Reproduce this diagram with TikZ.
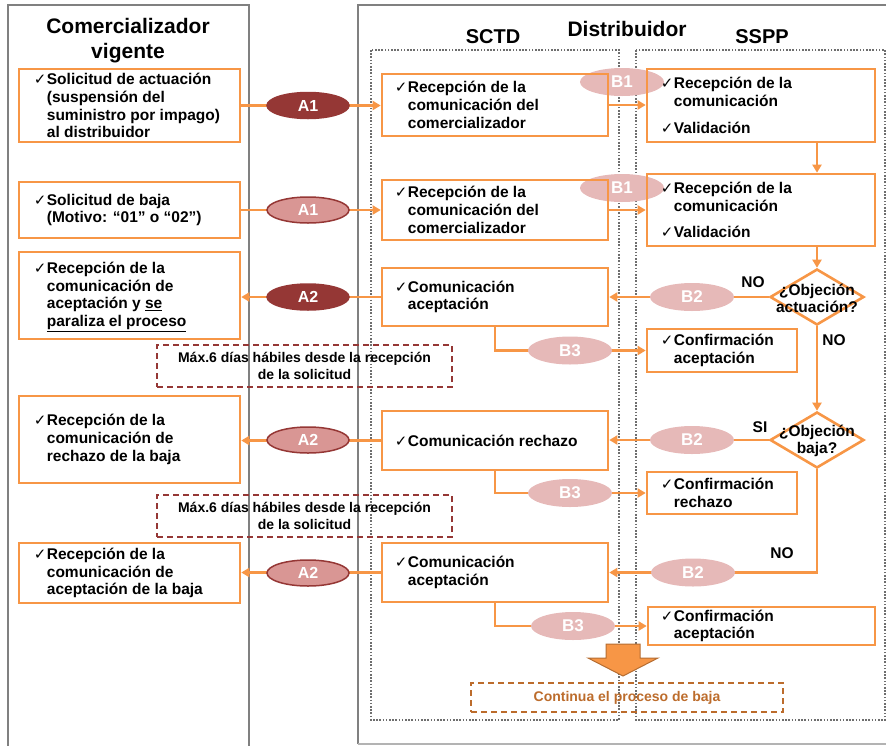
\documentclass[tikz,border=0pt]{standalone}
\usepackage{fontspec}
\setmainfont{Liberation Sans}
\newfontfamily\symfont{DejaVu Sans}
\usetikzlibrary{shapes.geometric,arrows.meta}

\definecolor{orng}{HTML}{F79646}
\definecolor{dred}{HTML}{953735}
\definecolor{lred}{HTML}{D99694}
\definecolor{pnk}{HTML}{E6B9B8}
\definecolor{frgray}{HTML}{808080}
\definecolor{dotgray}{HTML}{6E6E6E}
\definecolor{brwn}{HTML}{BC6C2C}
\definecolor{darrow}{HTML}{B66D31}

\newcommand{\ck}{\llap{{\symfont\mdseries\fontsize{15}{15}\selectfont ✓}\hspace{0.5pt}}}

\tikzset{
  box/.style={draw=orng, line width=2.6pt, inner sep=0pt},
  lbox/.style={box, minimum width=221pt},
  mbox/.style={box, minimum width=226pt},
  rbox/.style={box, minimum width=228pt},
  cbox/.style={box, minimum width=150pt},
  txt/.style={font=\bfseries\fontsize{15.5}{17.8}\selectfont, align=left, inner sep=0pt, anchor=west},
  dmd/.style={diamond, draw=orng, line width=2.6pt, minimum width=94pt, minimum height=56pt, inner sep=0pt},
  dtxt/.style={font=\bfseries\fontsize{15.5}{17}\selectfont, align=center, inner sep=0pt},
  lbl/.style={font=\bfseries\fontsize{15.5}{15.5}\selectfont, inner sep=0pt},
  arr/.style={draw=orng, line width=2.3pt, -{Triangle[length=8pt,width=9pt]}},
  adark/.style={ellipse, fill=dred, draw=dred, line width=1.5pt, minimum width=82pt, minimum height=26pt, inner sep=0pt, text=white, font=\bfseries\fontsize{16}{16}\selectfont},
  alight/.style={adark, fill=lred},
  bpink/.style={ellipse, fill=pnk, minimum width=84pt, minimum height=28pt, inner sep=0pt, text=white, font=\bfseries\fontsize{17}{17}\selectfont},
  maxbox/.style={draw=dred, line width=1.3pt, dash pattern=on 6pt off 4pt, minimum width=295pt, minimum height=42pt, inner sep=0pt, align=center, font=\bfseries\fontsize{14}{17}\selectfont},
  dots/.style={draw=dotgray, line width=2.4pt, dash pattern=on 1.6pt off 1.6pt},
  ttl/.style={font=\bfseries\fontsize{21}{25}\selectfont, align=center, inner sep=0pt}
}

\begin{document}
\begin{tikzpicture}[x=1pt,y=-1pt]
    \useasboundingbox (0,0) rectangle (886,745);
    \draw[frgray, line width=2.4pt] (8,748) -- (8,5) -- (249,5) -- (249,748);
    \draw[frgray, line width=2.4pt] (358,744) -- (358,5) -- (890,5);
    \draw[frgray!60, line width=1.5pt] (358,744) -- (890,744);
    \draw[dots] (371,50) rectangle (619,720);
    \draw[dots] (636,50) rectangle (885,720);

    \node[ttl] (cv) at (128,40.5) {Comercializador\\vigente};
    \node[ttl] (dist) at (627,29) {Distribuidor};
    \node[ttl, font=\bfseries\fontsize{20}{20}\selectfont] (sctd) at (493,37) {SCTD};
    \node[ttl, font=\bfseries\fontsize{20}{20}\selectfont] (sspp) at (762,37) {SSPP};

    \node[bpink] (B1a) at (622,82) {B1};
    \node[bpink] (B1b) at (622,188) {B1};

    \node[lbox, minimum height=73pt] (L1) at (129.5,105.5) {};
    \node[lbox, minimum height=56pt] (L2) at (129.5,210) {};
    \node[lbox, minimum height=87pt] (L3) at (129.5,295.5) {};
    \node[lbox, minimum height=87pt] (L4) at (129.5,439.5) {};
    \node[lbox, minimum height=60pt] (L5) at (129.5,573) {};
    \node[mbox, minimum height=62pt] (M1) at (495,105) {};
    \node[mbox, minimum height=60pt] (M2) at (495,210) {};
    \node[mbox, minimum height=58pt] (M3) at (495,297) {};
    \node[mbox, minimum height=59pt] (M4) at (495,440.5) {};
    \node[mbox, minimum height=59pt] (M5) at (495,572.5) {};
    \node[rbox, minimum height=73pt] (R1) at (761,105.5) {};
    \node[rbox, minimum height=72pt] (R2) at (761,210) {};
    \node[cbox, minimum height=43pt] (R3) at (722,350.5) {};
    \node[cbox, minimum height=42pt] (R4) at (722,493) {};
    \node[rbox, minimum height=38pt, minimum width=227pt] (R5) at (761.5,626) {};
    \node[dmd] (D1) at (817,297) {};
    \node[dmd] (D2) at (817,440) {};

    \node[txt] (L1t) at ([xshift=29pt]L1.west) {\ck Solicitud de actuación\\(suspensión del\\suministro por impago)\\al distribuidor};
    \node[txt] (L2t) at ([xshift=29pt]L2.west) {\ck Solicitud de baja\\(Motivo: “01” o “02”)};
    \node[txt] (L3t) at ([xshift=29pt,yshift=-1.5pt]L3.west) {\ck Recepción de la\\comunicación de\\aceptación y \underline{se}\\\underline{paraliza el proceso}};
    \node[txt] (L4t) at ([xshift=29pt]L4.west) {\ck Recepción de la\\comunicación de\\rechazo de la baja};
    \node[txt] (L5t) at ([xshift=29pt]L5.west) {\ck Recepción de la\\comunicación de\\aceptación de la baja};
    \node[txt] (M1t) at ([xshift=27pt]M1.west) {\ck Recepción de la\\comunicación del\\comercializador};
    \node[txt] (M2t) at ([xshift=27pt]M2.west) {\ck Recepción de la\\comunicación del\\comercializador};
    \node[txt] (M3t) at ([xshift=27pt]M3.west) {\ck Comunicación\\aceptación};
    \node[txt] (M4t) at ([xshift=27pt]M4.west) {\ck Comunicación rechazo};
    \node[txt] (M5t) at ([xshift=27pt]M5.west) {\ck Comunicación\\aceptación};
    \node[txt] (R1t) at ([xshift=28pt]R1.west) {\ck Recepción de la\\comunicación\\[9pt]\ck Validación};
    \node[txt] (R2t) at ([xshift=28pt]R2.west) {\ck Recepción de la\\comunicación\\[9pt]\ck Validación};
    \node[txt] (R3t) at ([xshift=28pt]R3.west) {\ck Confirmación\\aceptación};
    \node[txt] (R4t) at ([xshift=28pt]R4.west) {\ck Confirmación\\rechazo};
    \node[txt] (R5t) at ([xshift=27pt]R5.west) {\ck Confirmación\\aceptación};
    \node[dtxt] (D1t) at ([yshift=-1.5pt]D1.center) {¿Objeción\\actuación?};
    \node[dtxt] (D2t) at ([yshift=-1pt]D2.center) {¿Objeción\\baja?};

    \draw[arr] (L1.east) -- (L1.east -| M1.west);
    \node[adark] (A1a) at (308,105.5) {A1};
    \draw[arr] (L2.east) -- (L2.east -| M2.west);
    \node[alight] (A1b) at (308,210) {A1};
    \draw[arr] (M1.east) -- (M1.east -| R1.west);
    \draw[arr] (M2.east) -- (M2.east -| R2.west);
    \draw[arr] (D1 |- R1.south) -- (D1 |- R2.north);
    \draw[arr] (D1 |- R2.south) -- (D1.north);

    \draw[arr] (D1.west) -- (D1.west -| M3.east);
    \node[bpink] (B2a) at (692,297) {B2};
    \node[lbl] (no1) at (753,282) {NO};
    \draw[arr] (M3.west) -- (M3.west -| L3.east);
    \node[adark] (A2a) at (308,297) {A2};
    \draw[arr] (M3.south) |- (R3.west);
    \node[bpink] (B3a) at (570,350.5) {B3};

    \draw[arr] (D1.south) -- (D2.north);
    \node[lbl] (no2) at (834,340) {NO};
    \draw[arr] (D2.west) -- (D2.west -| M4.east);
    \node[bpink] (B2b) at (692,440) {B2};
    \node[lbl] (si1) at (760,427) {SI};
    \draw[arr] (M4.west) -- (M4.west -| L4.east);
    \node[alight] (A2b) at (308,440) {A2};
    \draw[arr] (M4.south) |- (R4.west);
    \node[bpink] (B3b) at (570,493) {B3};

    \draw[arr] (D2.south) |- (M5.east);
    \node[bpink] (B2c) at (693,572.5) {B2};
    \node[lbl] (no3) at (782,553) {NO};
    \draw[arr] (M5.west) -- (M5.west -| L5.east);
    \node[alight] (A2c) at (308,573) {A2};
    \draw[arr] (M5.south) |- (R5.west);
    \node[bpink] (B3c) at (573,626) {B3};

    \node[maxbox] (mx1) at (304.5,366) {Máx.6 días hábiles desde la recepción\\de la solicitud};
    \node[maxbox] (mx2) at (304.5,516) {Máx.6 días hábiles desde la recepción\\de la solicitud};

    \filldraw[fill=orng, draw=darrow, line width=1pt] (606,644) -- (640,644) -- (640,658) -- (658,658) -- (623,676) -- (588,658) -- (606,658) -- cycle;
    \node[draw=brwn, line width=1.4pt, dash pattern=on 6pt off 4pt, minimum width=312pt, minimum height=29pt, text=brwn, font=\bfseries\fontsize{14}{14}\selectfont] (cont) at (627,697.5) {Continua el proceso de baja};
\end{tikzpicture}
\end{document}
